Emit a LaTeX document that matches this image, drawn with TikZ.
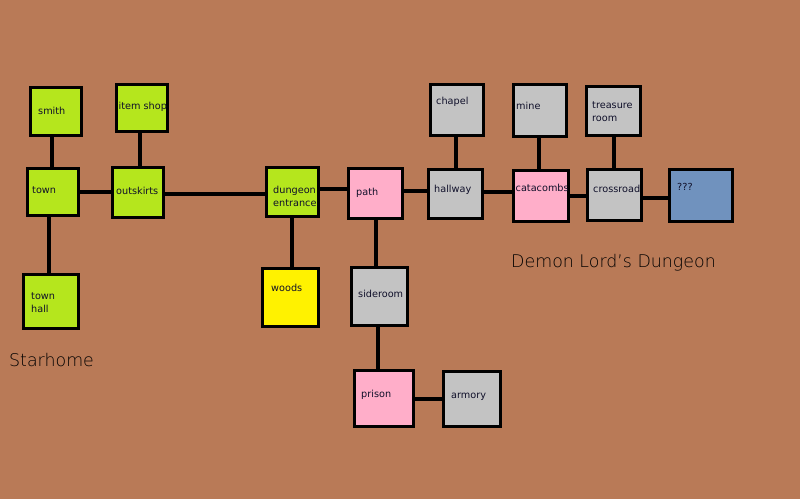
\documentclass[tikz,border=0pt]{standalone}
\usepackage{fontspec}
\setmainfont{DejaVu Sans}
\newfontfamily\thinfont{DejaVu Sans ExtraLight}
\definecolor{bg}{HTML}{B97A57}
\definecolor{lime}{HTML}{B5E61D}
\definecolor{yel}{HTML}{FFF200}
\definecolor{rose}{HTML}{FFAEC9}
\definecolor{lgray}{HTML}{C3C3C3}
\definecolor{bluegray}{HTML}{7092BE}
\definecolor{txt}{HTML}{10102A}
\newcommand\vlink[3]{\draw[link] ([xshift=#3]#1.south) -- ([xshift=#3]#1.south |- #2.north);}
\newcommand\hlink[3]{\draw[link] ([yshift=#3]#1.east) -- ([yshift=#3]#1.east -| #2.west);}
\begin{document}
\begin{tikzpicture}[x=1pt,y=-1pt,
  room/.style={draw=black,line width=3.3pt,inner sep=0pt,rectangle},
  link/.style={draw=black,line width=3.2pt},
  lbl/.style={anchor=west,inner sep=0pt,text=txt,font=\fontsize{9.7}{13}\selectfont,align=left},
  title/.style={anchor=west,inner sep=0pt,text=black,font=\thinfont\fontsize{17.4}{20}\selectfont}]
\useasboundingbox (0,0) rectangle (800,499);
\fill[bg] (0,0) rectangle (800,499);
% rooms: center, size
\node[room,fill=lime,minimum width=50.7pt,minimum height=47.7pt] (smith) at (56,111.5) {};
\node[room,fill=lime,minimum width=50.7pt,minimum height=46.7pt] (itemshop) at (142,108) {};
\node[room,fill=lime,minimum width=50.7pt,minimum height=46.7pt] (town) at (53,192) {};
\node[room,fill=lime,minimum width=50.7pt,minimum height=49.7pt] (outskirts) at (138,192.5) {};
\node[room,fill=lime,minimum width=51.7pt,minimum height=48.7pt] (dungeon) at (292.5,192) {};
\node[room,fill=lime,minimum width=54.7pt,minimum height=53.7pt] (townhall) at (51,301.5) {};
\node[room,fill=yel,minimum width=55.7pt,minimum height=57.7pt] (woods) at (290.5,297.5) {};
\node[room,fill=rose,minimum width=53.7pt,minimum height=49.7pt] (path) at (375.5,193.5) {};
\node[room,fill=lgray,minimum width=52.7pt,minimum height=50.7pt] (chapel) at (457,110) {};
\node[room,fill=lgray,minimum width=53.7pt,minimum height=48.7pt] (hallway) at (455.5,194) {};
\node[room,fill=lgray,minimum width=52.7pt,minimum height=51.7pt] (mine) at (540,110.5) {};
\node[room,fill=rose,minimum width=54.7pt,minimum height=50.7pt] (catacombs) at (541,196) {};
\node[room,fill=lgray,minimum width=53.7pt,minimum height=48.7pt] (treasure) at (613.5,111) {};
\node[room,fill=lgray,minimum width=53.7pt,minimum height=50.7pt] (crossroad) at (614.5,195) {};
\node[room,fill=bluegray,minimum width=62.7pt,minimum height=51.7pt] (qqq) at (701,195.5) {};
\node[room,fill=lgray,minimum width=55.7pt,minimum height=57.7pt] (sideroom) at (379.5,296.5) {};
\node[room,fill=rose,minimum width=58.7pt,minimum height=55.7pt] (prison) at (384,398.5) {};
\node[room,fill=lgray,minimum width=56.7pt,minimum height=54.7pt] (armory) at (472,399) {};
% connectors
\vlink{smith}{town}{-4pt}
\vlink{town}{townhall}{-4pt}
\hlink{town}{outskirts}{0pt}
\vlink{itemshop}{outskirts}{-2pt}
\hlink{outskirts}{dungeon}{-1.5pt}
\vlink{dungeon}{woods}{-0.5pt}
\hlink{dungeon}{path}{3pt}
\hlink{path}{hallway}{2.5pt}
\vlink{chapel}{hallway}{-1pt}
\hlink{hallway}{catacombs}{2pt}
\vlink{mine}{catacombs}{-1pt}
\hlink{catacombs}{crossroad}{0pt}
\vlink{treasure}{crossroad}{0.5pt}
\hlink{crossroad}{qqq}{-3pt}
\vlink{path}{sideroom}{0.5pt}
\vlink{sideroom}{prison}{-1.5pt}
\hlink{prison}{armory}{-0.5pt}
% labels
\node[lbl] (smith-t) at (38,111) {smith};
\node[lbl] (itemshop-t) at (118.5,106.5) {item shop};
\node[lbl] (town-t) at (32,190) {town};
\node[lbl] (outskirts-t) at (116,191) {outskirts};
\node[lbl] (dungeon-t) at (273,196.5) {dungeon\\entrance};
\node[lbl] (townhall-t) at (31,302.5) {town\\hall};
\node[lbl] (woods-t) at (271,288) {woods};
\node[lbl] (path-t) at (356,193) {path};
\node[lbl] (chapel-t) at (436,102) {chapel};
\node[lbl] (hallway-t) at (434,190) {hallway};
\node[lbl] (mine-t) at (516,106) {mine};
\node[lbl] (catacombs-t) at (515.5,188) {catacombs};
\node[lbl] (treasure-t) at (592,111.5) {treasure\\room};
\node[lbl] (crossroad-t) at (593,189) {crossroad};
\node[lbl] (qqq-t) at (677,187) {???};
\node[lbl] (sideroom-t) at (358,294) {sideroom};
\node[lbl] (prison-t) at (361,395) {prison};
\node[lbl] (armory-t) at (451,397) {armory};
\node[title] (starhome) at (9,360) {Starhome};
\node[title] (demon) at (511,263) {Demon Lord’s Dungeon};
\end{tikzpicture}
\end{document}
